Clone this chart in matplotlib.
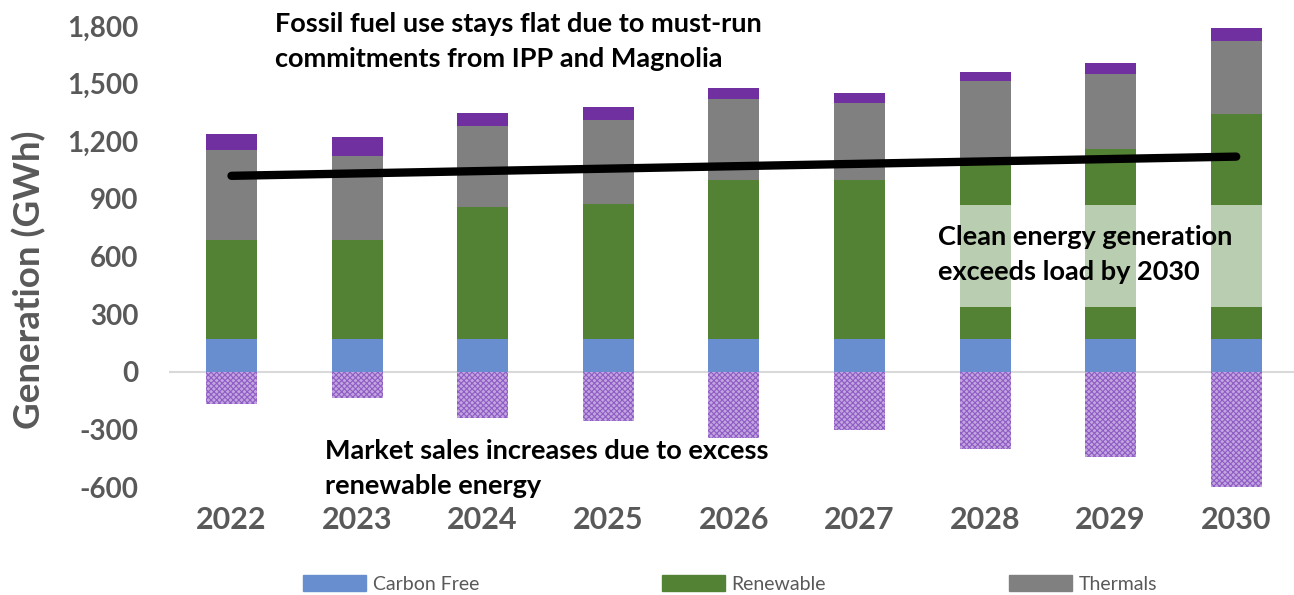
import matplotlib
matplotlib.use('Agg')

from matplotlib import pyplot as plt
from matplotlib.patches import Patch
import numpy as np

plt.rcParams['font.family'] = ['Lato', 'DejaVu Sans']
plt.rcParams['hatch.linewidth'] = 0.8

years = ['2022', '2023', '2024', '2025', '2026', '2027', '2028', '2029', '2030']
carbon_free = [170, 170, 170, 170, 170, 170, 170, 170, 170]
renewable = [515, 515, 688, 704, 828, 828, 940, 990, 1172]
# part of renewable under the light green block (2028-2030 only)
renewable_in_load = [0, 0, 0, 0, 0, 0, 168, 168, 168]
clean_excess = [0, 0, 0, 0, 0, 0, 530, 530, 530]
thermals = [469, 438, 421, 436, 422, 401, 403, 390, 379]
market_purchases = [84, 99, 68, 68, 57, 52, 47, 57, 68]
market_sales = [-166, -135, -240, -255, -343, -302, -400, -442, -603]

load_years = [0, 8]          # first and last bar
load_line = [1020, 1120]

c_blue = '#698ED0'
c_green = '#548235'
c_lgreen = '#B9CDB0'
c_gray = '#808080'
c_purple = '#7030A0'
c_text = '#595959'

fig = plt.figure(figsize=(12.94, 5.95), dpi=100)
ax = fig.add_axes([168.7/1294, 1-487/595, 1-168.7/1294, (487-26)/595])

x = np.arange(len(years))
w = 0.406
cf = np.array(carbon_free)
rn = np.array(renewable)
th = np.array(thermals)

ax.bar(x, cf, w, color=c_blue, lw=0)
ax.bar(x, rn, w, bottom=cf, color=c_green, lw=0)
ax.bar(x, clean_excess, w, bottom=cf + np.array(renewable_in_load), color=c_lgreen, lw=0)
ax.bar(x, th, w, bottom=cf + rn, color=c_gray, lw=0)
ax.bar(x, market_purchases, w, bottom=cf + rn + th, color=c_purple, lw=0)
ax.bar(x, market_sales, w, color='#C3A6E0', edgecolor='#8E5CC4', hatch='xxxxxx', lw=0)

ax.axhline(0, color='#D9D9D9', lw=1.5, zorder=0.5)
ax.plot(load_years, load_line, color='black', lw=6, solid_capstyle='round', zorder=5)

ax.set_xlim(-0.5, 8.46)
ax.set_ylim(-600, 1800)
ax.set_yticks(np.arange(-600, 1801, 300))
ax.set_yticklabels(['{:,}'.format(v) for v in range(-600, 1801, 300)])
ax.set_xticks(x)
ax.set_xticklabels(years)
for s in ax.spines.values():
    s.set_visible(False)
ax.tick_params(length=0)
ax.tick_params(axis='y', pad=22, labelsize=20, labelcolor=c_text)
ax.tick_params(axis='x', pad=14, labelsize=22, labelcolor=c_text)
for lab in ax.get_xticklabels() + ax.get_yticklabels():
    lab.set_fontweight('bold')

fig.text(29/1294, 1-280/595, 'Generation (GWh)', rotation=90, ha='center', va='center',
         fontsize=26.5, fontweight='bold', color=c_text)

fig.text(275/1294, 1-12/595, 'Fossil fuel use stays flat due to must-run\ncommitments from IPP and Magnolia',
         ha='left', va='top', fontsize=19.5, fontweight='bold', linespacing=1.55)
fig.text(938/1294, 1-225/595, 'Clean energy generation\nexceeds load by 2030',
         ha='left', va='top', fontsize=19.5, fontweight='bold', linespacing=1.55)
fig.text(325/1294, 1-439/595, 'Market sales increases due to excess\nrenewable energy',
         ha='left', va='top', fontsize=19.5, fontweight='bold', linespacing=1.55)

handles = [Patch(color=c_blue), Patch(color=c_green), Patch(color=c_gray)]
fig.legend(handles, ['Carbon Free', 'Renewable', 'Thermals'], loc='center',
           bbox_to_anchor=(730/1294, 1-584/595), ncol=3, frameon=False,
           fontsize=14, labelcolor=c_text, handlelength=3.25, handleheight=0.9,
           handletextpad=0.35, columnspacing=9.4)

fig.savefig('out.png', dpi=100)
